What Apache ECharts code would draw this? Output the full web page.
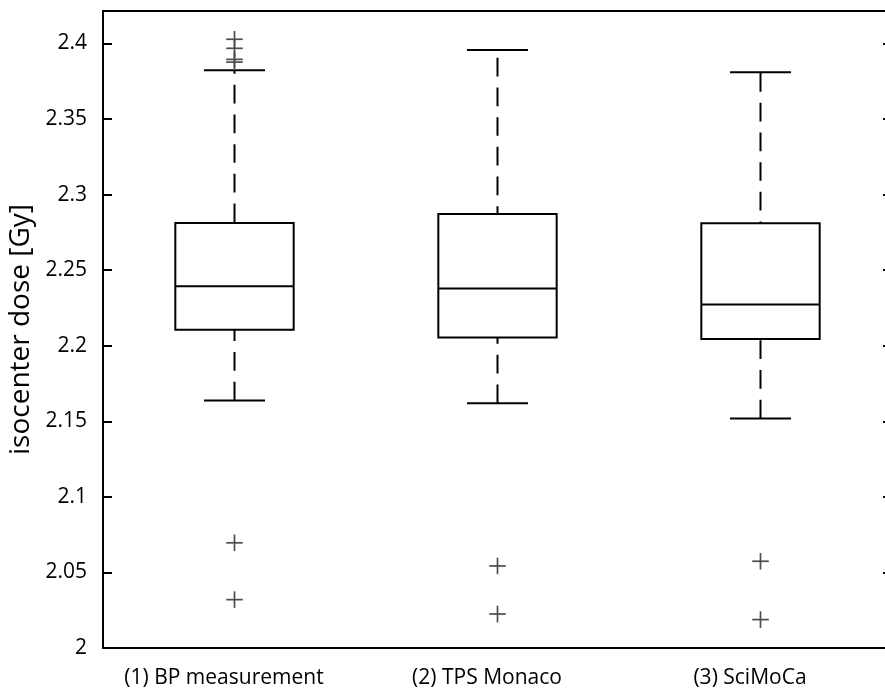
<!DOCTYPE html>
<html>
<head>
<meta charset="utf-8">
<script src="https://cdn.jsdelivr.net/npm/echarts@6/dist/echarts.min.js"></script>
<style>
html,body{margin:0;padding:0;background:#fff;}
#chart{width:885px;height:691px;}
</style>
</head>
<body>
<div id="chart"></div>
<script>
const categories = ['(1) BP measurement', '(2) TPS Monaco', '(3) SciMoCa'];
const lowerWhisker = [2.1638, 2.1620, 2.1519];
const q1 = [2.2106, 2.2055, 2.2044];
const median = [2.2393, 2.2379, 2.2273];
const q3 = [2.2813, 2.2871, 2.2810];
const upperWhisker = [2.3823, 2.3957, 2.3809];
const outlierCategory = [0, 0, 0, 0, 0, 0, 1, 1, 2, 2];
const outlierValue = [2.4028, 2.3968, 2.3895, 2.3877, 2.0696, 2.0320, 2.0543, 2.0225, 2.0574, 2.0188];
const yTicks = [2, 2.05, 2.1, 2.15, 2.2, 2.25, 2.3, 2.35, 2.4];

const boxRows = categories.map((c, i) => [i, lowerWhisker[i], q1[i], median[i], q3[i], upperWhisker[i]]);
const outlierRows = outlierValue.map((v, k) => [outlierCategory[k], v]);

const FONT = 'Open Sans';

function renderBox(params, api) {
  const i = api.value(0);
  const lo = api.coord([i, api.value(1)]);
  const b1 = api.coord([i, api.value(2)]);
  const md = api.coord([i, api.value(3)]);
  const b3 = api.coord([i, api.value(4)]);
  const hi = api.coord([i, api.value(5)]);
  const band = api.size([1, 0])[0];
  const hw = band * 0.225;
  const cw = band * 0.116;
  const x = lo[0];
  const st = { stroke: '#000', lineWidth: 2 };
  return {
    type: 'group',
    children: [
      { type: 'line', shape: { x1: x, y1: lo[1], x2: x, y2: hi[1] }, style: { stroke: '#000', lineWidth: 2, lineDash: [18.7, 11] } },
      { type: 'rect', shape: { x: x - hw, y: b3[1], width: 2 * hw, height: b1[1] - b3[1] }, style: { fill: '#fff', stroke: '#000', lineWidth: 2 } },
      { type: 'line', shape: { x1: x - hw, y1: md[1], x2: x + hw, y2: md[1] }, style: st },
      { type: 'line', shape: { x1: x - cw, y1: lo[1], x2: x + cw, y2: lo[1] }, style: st },
      { type: 'line', shape: { x1: x - cw, y1: hi[1], x2: x + cw, y2: hi[1] }, style: st }
    ]
  };
}

function renderPlus(params, api) {
  const p = api.coord([api.value(0), api.value(1)]);
  const r = 8.3;
  const st = { stroke: '#4d4d4d', lineWidth: 1.7 };
  return {
    type: 'group',
    children: [
      { type: 'line', shape: { x1: p[0] - r, y1: p[1], x2: p[0] + r, y2: p[1] }, style: st },
      { type: 'line', shape: { x1: p[0], y1: p[1] - r, x2: p[0], y2: p[1] + r }, style: st }
    ]
  };
}

const chart = echarts.init(document.getElementById('chart'), null, { renderer: 'canvas' });
const axisLineStyle = { color: '#000', width: 2 };
chart.setOption({
  animation: false,
  backgroundColor: '#fff',
  grid: { left: 103, top: 11, width: 789, height: 637, containLabel: false, outerBoundsMode: 'none' },
  xAxis: [
    {
      type: 'category', data: categories, position: 'bottom',
      axisLine: { lineStyle: axisLineStyle },
      axisTick: { inside: true, alignWithLabel: true, length: 8, lineStyle: { color: '#000', width: 2 } },
      axisLabel: { color: '#000', fontFamily: FONT, fontSize: 21, margin: 20, interval: 0, hideOverlap: false,
        formatter: v => v + '\u2002\u2002' },
      splitLine: { show: false }
    },
    {
      type: 'category', data: categories, position: 'top',
      axisLine: { lineStyle: axisLineStyle },
      axisTick: { inside: true, alignWithLabel: true, length: 9, lineStyle: { color: '#000', width: 2 } },
      axisLabel: { show: false },
      splitLine: { show: false }
    }
  ],
  yAxis: [
    {
      type: 'value', position: 'left', min: 2, max: 2.4215, interval: 0.05,
      name: 'isocenter dose [Gy]', nameLocation: 'middle', nameGap: 68, nameRotate: 90,
      nameTextStyle: { color: '#000', fontFamily: FONT, fontSize: 28 },
      axisLine: { show: true, lineStyle: axisLineStyle },
      axisTick: { show: true, inside: true, length: 9, lineStyle: { color: '#000', width: 2 } },
      axisLabel: { color: '#000', fontFamily: FONT, fontSize: 21, margin: 16, showMaxLabel: false,
        formatter: v => (yTicks.some(t => Math.abs(t - v) < 1e-9) ? String(+v.toFixed(2)) : '') },
      splitLine: { show: false }
    },
    {
      type: 'value', position: 'right', min: 2, max: 2.4215, interval: 0.05,
      axisLine: { show: true, lineStyle: axisLineStyle },
      axisTick: { show: true, inside: true, length: 9, lineStyle: { color: '#000', width: 2 } },
      axisLabel: { show: false },
      splitLine: { show: false }
    }
  ],
  series: [
    {
      type: 'custom', xAxisIndex: 0, yAxisIndex: 0,
      renderItem: renderBox, data: boxRows,
      encode: { x: 0, y: [1, 2, 3, 4, 5] }, z: 2
    },
    {
      type: 'custom', xAxisIndex: 0, yAxisIndex: 0,
      renderItem: renderPlus, data: outlierRows,
      encode: { x: 0, y: 1 }, z: 3
    }
  ]
});
</script>
</body>
</html>
